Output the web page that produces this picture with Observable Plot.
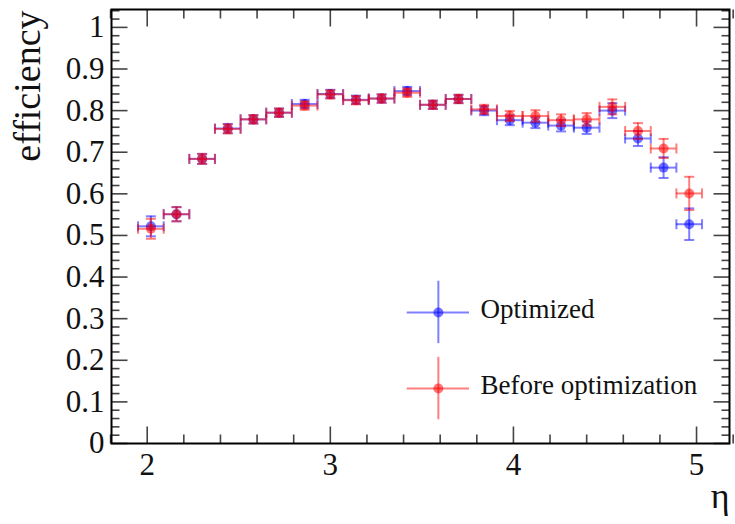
<!DOCTYPE html>
<html>
<head>
<meta charset="utf-8">
<script src="https://cdn.jsdelivr.net/npm/d3@7"></script>
<script src="https://cdn.jsdelivr.net/npm/@observablehq/plot@0.6"></script>
<style>
  html, body { margin: 0; padding: 0; background: #fff; }
</style>
</head>
<body>
<div id="chart"></div>
<script>
// ---------------- data ----------------
const etaCenters = [2.02, 2.16, 2.30, 2.44, 2.58, 2.72, 2.86, 3.00, 3.14, 3.28, 3.42,
                    3.56, 3.70, 3.84, 3.98, 4.12, 4.26, 4.40, 4.54, 4.68, 4.82, 4.96];
const binHalfWidth = 0.07;

const optimizedEff = [0.522, 0.551, 0.684, 0.757, 0.779, 0.795, 0.816, 0.840, 0.826, 0.829, 0.847,
                      0.814, 0.828, 0.800, 0.777, 0.771, 0.764, 0.759, 0.800, 0.733, 0.663, 0.527];
const optimizedErr = [0.024, 0.017, 0.012, 0.011, 0.010, 0.010, 0.010, 0.010, 0.010, 0.010, 0.010,
                      0.010, 0.010, 0.011, 0.012, 0.013, 0.014, 0.015, 0.018, 0.018, 0.025, 0.038];

const beforeEff    = [0.516, 0.551, 0.684, 0.756, 0.779, 0.795, 0.812, 0.839, 0.825, 0.829, 0.843,
                      0.814, 0.828, 0.803, 0.787, 0.787, 0.777, 0.779, 0.809, 0.751, 0.709, 0.601];
const beforeErr    = [0.024, 0.017, 0.012, 0.011, 0.010, 0.010, 0.010, 0.010, 0.010, 0.010, 0.010,
                      0.010, 0.010, 0.011, 0.012, 0.014, 0.014, 0.015, 0.018, 0.019, 0.023, 0.040];

const seriesNames  = ["Optimized", "Before optimization"];
const seriesColors = ["#0000ff", "#ff0000"];

const xTicks = [2, 3, 4, 5];
const yTicks = [0, 0.1, 0.2, 0.3, 0.4, 0.5, 0.6, 0.7, 0.8, 0.9, 1];
const xLabel = "η";
const yLabel = "efficiency";

// ---------------- build tables ----------------
const seriesValues = [optimizedEff, beforeEff];
const seriesErrors = [optimizedErr, beforeErr];
const rows = seriesNames.map((name, s) =>
  etaCenters.map((eta, i) => ({
    series: name, eta, eff: seriesValues[s][i], err: seriesErrors[s][i]
  }))
);

const xMinorTicks = d3.range(1.8, 5.21, 0.2).map(v => +v.toFixed(2)).filter(v => !xTicks.includes(v));
const yMinorTicks = d3.range(0, 1.05, 0.02).map(v => +v.toFixed(2)).filter(v => !yTicks.includes(v));

// ---------------- styling helpers ----------------
const FONT = "Liberation Serif, Times New Roman, serif";
const seg = (x1, y1, x2, y2) => ({draw(ctx) { ctx.moveTo(x1, y1); ctx.lineTo(x2, y2); }});
const tickColor = "#444";

function seriesMarks(data, color) {
  return [
    Plot.ruleY(data, {y: "eff", x1: d => d.eta - binHalfWidth, x2: d => d.eta + binHalfWidth,
                      stroke: color, strokeOpacity: 0.5, strokeWidth: 2}),
    Plot.ruleX(data, {x: "eta", y1: d => d.eff - d.err, y2: d => d.eff + d.err,
                      stroke: color, strokeOpacity: 0.5, strokeWidth: 2}),
    Plot.dot(data, {x: d => d.eta - binHalfWidth, y: "eff", r: 1, symbol: seg(0, -5, 0, 5),
                    fill: "none", stroke: color, strokeOpacity: 0.5, strokeWidth: 2}),
    Plot.dot(data, {x: d => d.eta + binHalfWidth, y: "eff", r: 1, symbol: seg(0, -5, 0, 5),
                    fill: "none", stroke: color, strokeOpacity: 0.5, strokeWidth: 2}),
    Plot.dot(data, {x: "eta", y: d => d.eff - d.err, r: 1, symbol: seg(-5, 0, 5, 0),
                    fill: "none", stroke: color, strokeOpacity: 0.5, strokeWidth: 2}),
    Plot.dot(data, {x: "eta", y: d => d.eff + d.err, r: 1, symbol: seg(-5, 0, 5, 0),
                    fill: "none", stroke: color, strokeOpacity: 0.5, strokeWidth: 2}),
    Plot.dot(data, {x: "eta", y: "eff", r: 5, fill: color, fillOpacity: 0.55, stroke: "none"})
  ];
}

// legend layout (in data units of the plot)
const legendX = 3.59, legendTextX = 3.82;
const legendYs = [0.315, 0.132];
const legendHalfX = 0.17, legendHalfY = 0.075;
const legendRows = seriesNames.map((name, i) => ({name, color: seriesColors[i], y: legendYs[i]}));

const plot = Plot.plot({
  width: 735,
  height: 524,
  marginLeft: 111,
  marginRight: 6,
  marginTop: 9,
  marginBottom: 81,
  style: {fontFamily: FONT, background: "#fff", color: "#111"},
  x: {domain: [1.805, 5.18]},
  y: {domain: [0, 1.043]},
  marks: [
    // minor & major ticks, inside the frame on all four sides
    Plot.dot(xMinorTicks, {x: d => d, frameAnchor: "bottom", r: 1, symbol: seg(0, 0, 0, -9), fill: "none", stroke: tickColor, strokeWidth: 1.6}),
    Plot.dot(xTicks, {x: d => d, frameAnchor: "bottom", r: 1, symbol: seg(0, 0, 0, -17), fill: "none", stroke: tickColor, strokeWidth: 1.6}),
    Plot.dot(xMinorTicks, {x: d => d, frameAnchor: "top", r: 1, symbol: seg(0, 0, 0, 9), fill: "none", stroke: tickColor, strokeWidth: 1.6}),
    Plot.dot(xTicks, {x: d => d, frameAnchor: "top", r: 1, symbol: seg(0, 0, 0, 17), fill: "none", stroke: tickColor, strokeWidth: 1.6}),
    Plot.dot(yMinorTicks, {y: d => d, frameAnchor: "left", r: 1, symbol: seg(0, 0, 8, 0), fill: "none", stroke: tickColor, strokeWidth: 1.6}),
    Plot.dot(yTicks, {y: d => d, frameAnchor: "left", r: 1, symbol: seg(0, 0, 16, 0), fill: "none", stroke: tickColor, strokeWidth: 1.6}),
    Plot.dot(yMinorTicks, {y: d => d, frameAnchor: "right", r: 1, symbol: seg(0, 0, -8, 0), fill: "none", stroke: tickColor, strokeWidth: 1.6}),
    Plot.dot(yTicks, {y: d => d, frameAnchor: "right", r: 1, symbol: seg(0, 0, -16, 0), fill: "none", stroke: tickColor, strokeWidth: 1.6}),

    // axes labels
    Plot.axisX({ticks: xTicks, tickSize: 0, tickPadding: 9, fontSize: 31, fontFamily: FONT, label: null, tickFormat: d => String(d)}),
    Plot.axisY({ticks: yTicks, tickSize: 0, tickPadding: 7, fontSize: 31, fontFamily: FONT, label: null, tickFormat: d => String(d)}),

    // data
    ...seriesMarks(rows[0], seriesColors[0]),
    ...seriesMarks(rows[1], seriesColors[1]),

    // legend
    Plot.ruleY(legendRows, {y: "y", x1: legendX - legendHalfX, x2: legendX + legendHalfX, stroke: "color", strokeOpacity: 0.5, strokeWidth: 2}),
    Plot.ruleX(legendRows, {x: legendX, y1: d => d.y - legendHalfY, y2: d => d.y + legendHalfY, stroke: "color", strokeOpacity: 0.5, strokeWidth: 2}),
    Plot.dot(legendRows, {x: legendX, y: "y", r: 5, fill: "color", fillOpacity: 0.55, stroke: "none"}),
    Plot.text(legendRows, {x: legendTextX, y: "y", text: "name", textAnchor: "start", fontSize: 27, fontFamily: FONT, fill: "#111", dy: -3}),

    // axis titles
    Plot.text([yLabel], {frameAnchor: "top-left", text: d => d, rotate: -90, textAnchor: "end", lineAnchor: "middle",
                         dx: -84, dy: 1, fontSize: 38, fontFamily: FONT, fill: "#111"}),
    Plot.text([xLabel], {frameAnchor: "bottom-right", text: d => d, textAnchor: "end", lineAnchor: "middle",
                         dx: 0, dy: 53, fontSize: 36, fontFamily: FONT, fill: "#111"}),

    Plot.frame({stroke: "#000", strokeWidth: 2})
  ]
});
document.getElementById("chart").appendChild(plot);
</script>
</body>
</html>
